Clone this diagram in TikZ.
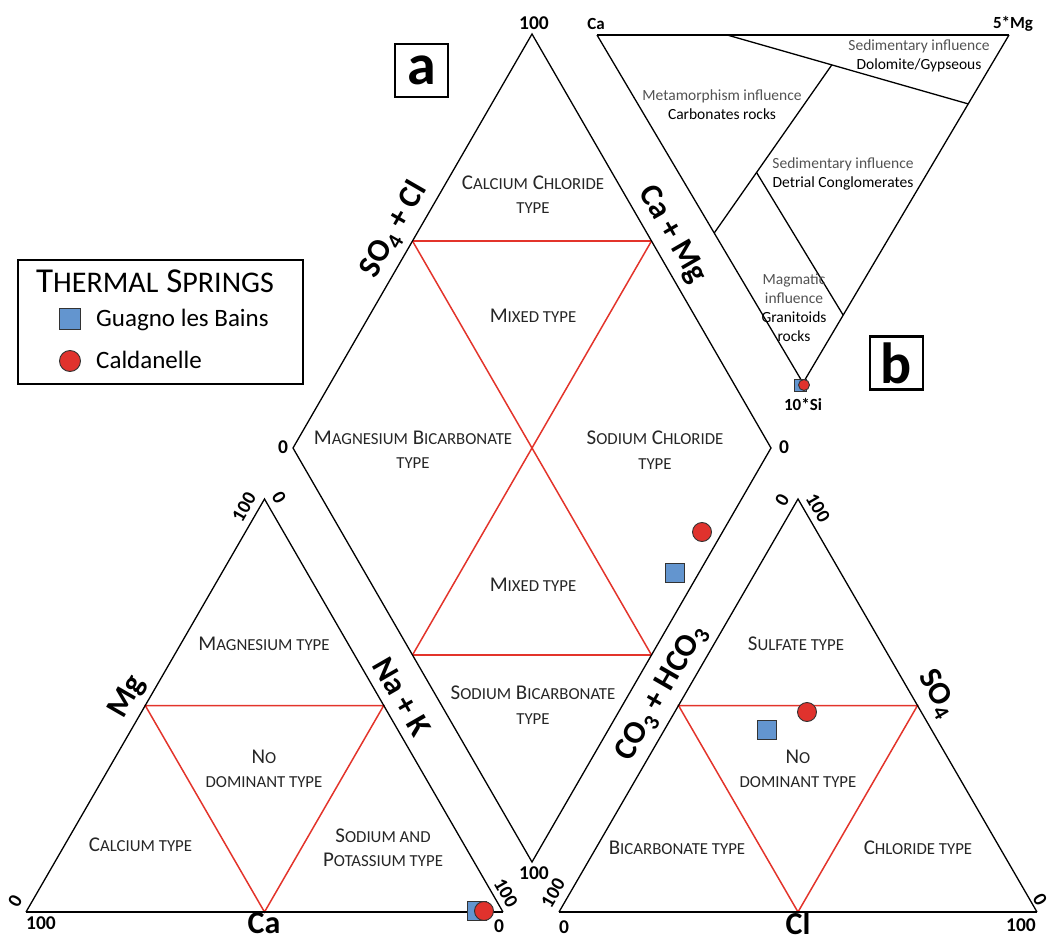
\documentclass[tikz,border=0pt]{standalone}
\usepackage{fontspec}
\setmainfont{Carlito}
\usetikzlibrary{calc}
\definecolor{piperred}{HTML}{E3342B}
\definecolor{mblue}{HTML}{6395CF}
\definecolor{mred}{HTML}{E0322D}
\definecolor{lighttext}{gray}{0.32}
\newcommand{\smc}[1]{{\fontsize{16.8}{16.8}\selectfont #1}}
\newcommand{\smcs}[2]{{\fontsize{#1}{#1}\selectfont #2}}
\begin{document}
\begin{tikzpicture}[x=1pt,y=-1pt,
  thinline/.style={draw=black,line width=1.3},
  thickline/.style={draw=black,line width=2.3},
  redl/.style={draw=piperred,line width=1.5},
  typelab/.style={font=\fontsize{21}{24.5}\selectfont,align=center,text=black!85,inner sep=0},
  axislab/.style={font=\fontsize{32}{32}\selectfont\bfseries,inner sep=0},
  num/.style={font=\fontsize{19.5}{20}\selectfont\bfseries,inner sep=0},
  blab/.style={font=\fontsize{15.5}{19}\selectfont,align=center,inner sep=0},
  sq/.style={draw=black!80,fill=mblue,minimum size=19,inner sep=0,line width=0.9},
  ci/.style={circle,draw=black!80,fill=mred,minimum size=19,inner sep=0,line width=0.9},
  letterbox/.style={draw=black,line width=2.2,minimum width=53,minimum height=53,inner sep=0,font=\fontsize{58}{58}\selectfont\bfseries}]
\useasboundingbox (0,0) rectangle (1050,939);
% ---- vertices
\coordinate (L1) at (26,912); \coordinate (L2) at (503,912); \coordinate (L3) at (264.5,499);
\coordinate (R1) at (559,912); \coordinate (R2) at (1037,912); \coordinate (R3) at (798,499);
\coordinate (Dt) at (532,34); \coordinate (Dl) at (293,448); \coordinate (Dr) at (771,448); \coordinate (Db) at (532,862);
\coordinate (Bca) at (597,35); \coordinate (Bmg) at (1009,35); \coordinate (Bsi) at (803,383);
% ---- midpoints
\coordinate (Lm1) at ($(L1)!0.5!(L3)$); \coordinate (Lm2) at ($(L2)!0.5!(L3)$); \coordinate (Lm3) at ($(L1)!0.5!(L2)$);
\coordinate (Rm1) at ($(R1)!0.5!(R3)$); \coordinate (Rm2) at ($(R2)!0.5!(R3)$); \coordinate (Rm3) at ($(R1)!0.5!(R2)$);
\coordinate (Dul) at ($(Dt)!0.5!(Dl)$); \coordinate (Dur) at ($(Dt)!0.5!(Dr)$);
\coordinate (Dll) at ($(Db)!0.5!(Dl)$); \coordinate (Dlr) at ($(Db)!0.5!(Dr)$);
% ---- red lines
\draw[redl] (Lm1) -- (Lm2) -- (Lm3) -- cycle;
\draw[redl] (Rm1) -- (Rm2) -- (Rm3) -- cycle;
\draw[redl] (Dul) -- (Dur); \draw[redl] (Dll) -- (Dlr);
\draw[redl] (Dul) -- (Dlr); \draw[redl] (Dur) -- (Dll);
% ---- frames
\draw[thinline] (L2) -- (L3) -- (L1);
\draw[thickline] (L1) -- (L2);
\draw[thinline] (R2) -- (R3) -- (R1);
\draw[thickline] (R1) -- (R2);
\draw[thinline] (Dt) -- (Dr) -- (Db) -- (Dl) -- cycle;
% ---- b triangle
\draw[thinline] (Bmg) -- (Bsi) -- (Bca);
\draw[thickline] (Bca) -- (Bmg);
\coordinate (B1a) at ($(Bca)!0.316!(Bmg)$); \coordinate (B1b) at ($(Bmg)!0.198!(Bsi)$);
\coordinate (B2a) at ($(B1a)!0.434!(B1b)$); \coordinate (B2b) at ($(Bca)!0.569!(Bsi)$);
\coordinate (B3a) at ($(B2a)!0.64!(B2b)$); \coordinate (B3b) at ($(Bmg)!0.805!(Bsi)$);
\draw[thinline] (B1a) -- (B1b);
\draw[thinline] (B2a) -- (B2b);
\draw[thinline] (B3a) -- (B3b);
% ---- b labels
\node[blab] (bca) at (596,24) {\bfseries\fontsize{17}{17}\selectfont Ca};
\node[blab] (bmg) at (1013,24) {\bfseries\fontsize{17}{17}\selectfont 5*Mg};
\node[blab] (bsi) at (803,404) {\bfseries\fontsize{17}{17}\selectfont 10*Si};
\node[blab] (sed1) at (919,55.5) {\textcolor{lighttext}{Sedimentary influence}\\Dolomite/Gypseous};
\node[blab] (meta) at (722,104.5) {\textcolor{lighttext}{Metamorphism influence}\\Carbonates rocks};
\node[blab] (sed2) at (843,173.5) {\textcolor{lighttext}{Sedimentary influence}\\Detrial Conglomerates};
\node[blab] (magm) at (794,307.5) {\textcolor{lighttext}{Magmatic}\\\textcolor{lighttext}{influence}\\Granitoids\\rocks};
\node[sq,minimum size=12] (bsq) at (800,385) {};
\node[ci,minimum size=11] (bci) at (804,385) {};
% ---- letter boxes
\node[letterbox] (boxa) at (421.5,70.5) {a};
\node[letterbox] (boxb) at (896.5,363) {b};
% ---- legend
\draw[thinline,line width=1.5] (18,260) rectangle (303,384);
\node[font=\fontsize{35}{35}\selectfont,inner sep=0,anchor=base] (legtitle) at (155,292) {T\smcs{30}{HERMAL} S\smcs{30}{PRINGS}};
\node[sq,minimum size=21] (legsq) at (70,319) {};
\node[ci,minimum size=21] (legci) at (70,361) {};
\node[font=\fontsize{25}{25}\selectfont,anchor=base west,inner sep=0] (legt1) at (96,326) {Guagno les Bains};
\node[font=\fontsize{25}{25}\selectfont,anchor=base west,inner sep=0] (legt2) at (96,368) {Caldanelle};
% ---- type labels: left triangle
\node[typelab] (magtype) at (264,644) {M\smc{AGNESIUM TYPE}};
\node[typelab] (nodom1) at (264,769) {N\smc{O}\\\smc{DOMINANT TYPE}};
\node[typelab] (catype) at (140.5,845) {C\smc{ALCIUM TYPE}};
\node[typelab] (natype) at (383,847.5) {S\smc{ODIUM AND}\\P\smc{OTASSIUM TYPE}};
% ---- diamond
\node[typelab] (cacl) at (533,194.5) {C\smc{ALCIUM} C\smc{HLORIDE}\\\smc{TYPE}};
\node[typelab] (mixed1) at (533,316) {M\smc{IXED TYPE}};
\node[typelab] (mgbic) at (413,450) {M\smc{AGNESIUM} B\smc{ICARBONATE}\\\smc{TYPE}};
\node[typelab] (nacl) at (655,450) {S\smc{ODIUM} C\smc{HLORIDE}\\\smc{TYPE}};
\node[typelab] (mixed2) at (533,585) {M\smc{IXED TYPE}};
\node[typelab] (nabic) at (533,705) {S\smc{ODIUM} B\smc{ICARBONATE}\\\smc{TYPE}};
% ---- right triangle
\node[typelab] (sulf) at (796,644) {S\smc{ULFATE TYPE}};
\node[typelab] (nodom2) at (798,769) {N\smc{O}\\\smc{DOMINANT TYPE}};
\node[typelab] (bicarb) at (677,848) {B\smc{ICARBONATE TYPE}};
\node[typelab] (chlor) at (918,848) {C\smc{HLORIDE TYPE}};
% ---- axis labels
\node[axislab,rotate=60] (axmg) at (128,697) {Mg};
\node[axislab,rotate=-60] (axnak) at (402,697) {Na + K};
\node[axislab] (axca) at (264,923) {Ca};
\node[axislab,rotate=60] (axso4cl) at (394,230) {SO$_{\mathbf 4}$ + Cl};
\node[axislab,rotate=-60] (axcamg) at (672,235) {Ca + Mg};
\node[axislab,rotate=60] (axco3) at (662,693) {CO$_{\mathbf 3}$ + HCO$_{\mathbf 3}$};
\node[axislab,rotate=-60] (axso4) at (937,694) {SO$_{\mathbf 4}$};
\node[axislab] (axcl) at (798,923) {Cl};
% ---- numbers
\node[num] (n1) at (534,23) {100};
\node[num] (n2) at (283,447) {0};
\node[num] (n3) at (784,447) {0};
\node[num] (n4) at (534,873) {100};
\node[num] (n5) at (41,923) {100};
\node[num] (n6) at (499,926) {0};
\node[num,rotate=60] (n7) at (15,901) {0};
\node[num,rotate=60] (n8) at (244,507) {100};
\node[num,rotate=-60] (n9) at (279,498) {0};
\node[num,rotate=-60] (n10) at (506,893) {100};
\node[num] (n11) at (564,927) {0};
\node[num] (n12) at (1021,925) {100};
\node[num,rotate=60] (n13) at (553,893) {100};
\node[num,rotate=60] (n14) at (782,500) {0};
\node[num,rotate=-60] (n15) at (818,508) {100};
\node[num,rotate=-60] (n16) at (1040,900) {0};
% ---- samples
\node[sq] (s1) at (477,911) {};
\node[ci] (c1) at (484,911) {};
\node[ci] (c2) at (702,532) {};
\node[sq] (s2) at (675,573) {};
\node[ci] (c3) at (807,712) {};
\node[sq] (s3) at (767,730) {};
\end{tikzpicture}
\end{document}
